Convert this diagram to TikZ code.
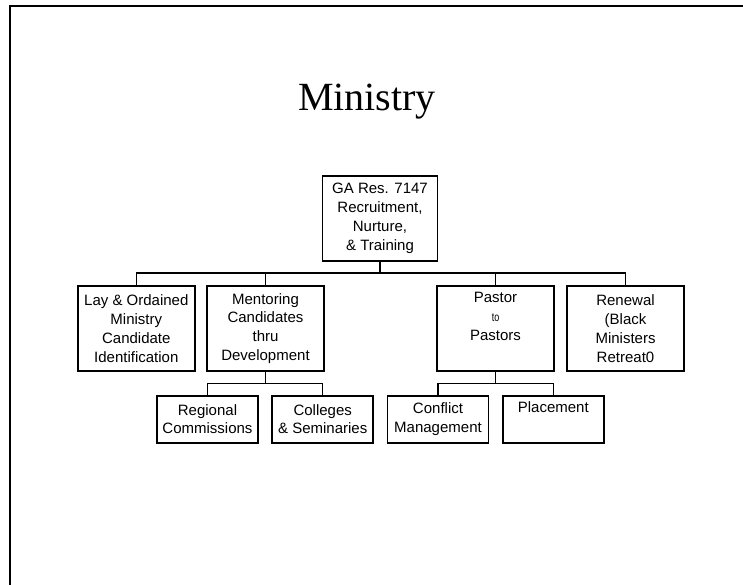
\documentclass[tikz,border=0pt]{standalone}
\usepackage{fontspec}
\setmainfont{Liberation Sans}
\newfontfamily\titlefont{Liberation Serif}
\begin{document}
\begin{tikzpicture}[x=1pt,y=-1pt,
  box/.style={draw,line width=1.7pt,inner sep=0pt,align=center,
    font=\fontsize{15}{18.8}\selectfont},
  lvlone/.style={box,minimum width=115pt,minimum height=85pt},
  lvltwo/.style={box,minimum width=117pt,minimum height=85pt},
  lvlthree/.style={box,minimum width=101pt,minimum height=47pt},
  conn/.style={line width=1.4pt}]
\useasboundingbox (0,0) rectangle (743,584);
\draw[line width=2pt] (9.5,590) -- (9.5,5.7) -- (750,5.7);
\node[anchor=base,font=\titlefont\fontsize{40}{48}\selectfont] (title) at (367,110) {Ministry};

\node[lvlone] (top) at (380,218.5) {GA Res. 7147\\ Recruitment,\\Nurture,\\\& Training};

\node[lvltwo] (lay) at (136.3,328.5) {Lay \& Ordained\\Ministry\\Candidate\\Identification};
\node[lvltwo] (men) at (265.5,328.5) {Mentoring\\Candidates\\thru\\Development};
\node[lvltwo] (pas) at (495.5,328.5) {Pastor\\{\fontsize{12}{10}\selectfont\scalebox{0.75}[1]{to}}\\Pastors\\\strut};
\node[lvltwo] (ren) at (625.5,328.5) {Renewal\\(Black\\Ministers\\Retreat0};

\node[lvlthree] (reg) at (207.5,419.2) {Regional\\Commissions};
\node[lvlthree] (col) at (322.7,419.2) {Colleges\\\& Seminaries};
\node[lvlthree] (con) at (438,419.2) {Conflict\\Management};
\node[lvlthree] (pla) at (553.3,419.2) {Placement\\\strut};

\coordinate (busA) at (380.5,273);
\draw[conn] (top.south) -- (top.south |- busA);
\draw[conn] (lay.north |- busA) -- (ren.north |- busA);
\foreach \n in {lay,men,pas,ren} \draw[conn] (\n.north) -- (\n.north |- busA);

\coordinate (busB) at (266,383.3);
\draw[conn] (men.south) -- (men.south |- busB);
\draw[conn] (reg.north |- busB) -- (col.north |- busB);
\foreach \n in {reg,col} \draw[conn] (\n.north) -- (\n.north |- busB);

\draw[conn] (pas.south) -- (pas.south |- busB);
\draw[conn] (con.north |- busB) -- (pla.north |- busB);
\foreach \n in {con,pla} \draw[conn] (\n.north) -- (\n.north |- busB);
\end{tikzpicture}
\end{document}
